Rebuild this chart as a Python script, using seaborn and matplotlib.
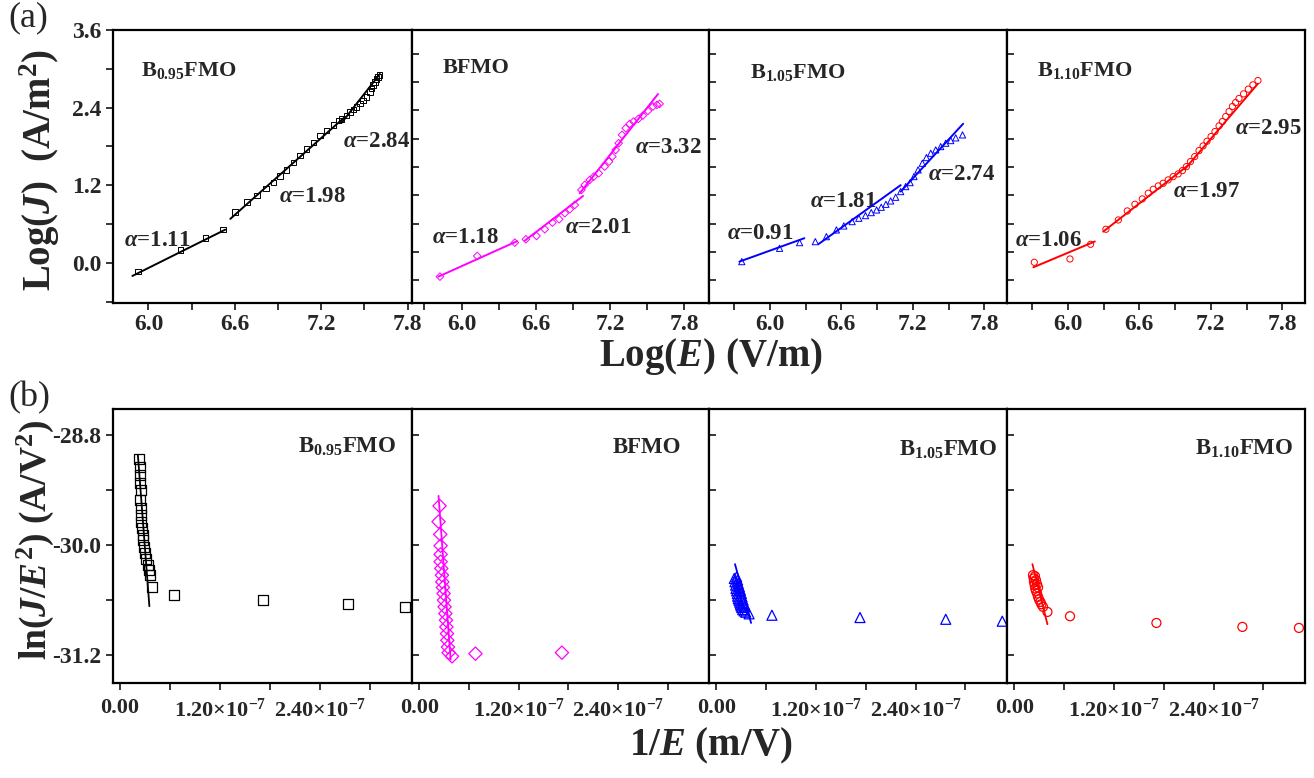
import numpy as np
import pandas as pd
import matplotlib
matplotlib.use("Agg")
import matplotlib.pyplot as plt
import seaborn as sns
from matplotlib.ticker import MultipleLocator, FuncFormatter, NullFormatter

# ---------------- samples ----------------
sample_names = ["B$_{0.95}$FMO", "BFMO", "B$_{1.05}$FMO", "B$_{1.10}$FMO"]
sample_colors = ["#000000", "#FF00FF", "#0000FF", "#FF0000"]
sample_markers = ["s", "D", "^", "o"]

# ---------------- (a) Log(J) vs Log(E) ----------------
logE_b095 = [5.926, 6.222, 6.395, 6.517, 6.602, 6.683, 6.753, 6.815, 6.868, 6.914,
             6.960, 7.006, 7.053, 7.099, 7.145, 7.191, 7.237, 7.283, 7.318, 7.341,
             7.376, 7.399, 7.422, 7.445, 7.468, 7.491, 7.514, 7.537, 7.549, 7.560,
             7.572, 7.583, 7.595, 7.606]
logJ_b095 = [-0.135, 0.202, 0.384, 0.514, 0.784, 0.940, 1.044, 1.147, 1.241, 1.345,
             1.438, 1.552, 1.656, 1.760, 1.864, 1.968, 2.046, 2.134, 2.201, 2.227,
             2.279, 2.331, 2.373, 2.409, 2.461, 2.513, 2.565, 2.643, 2.695, 2.747,
             2.799, 2.840, 2.871, 2.902]

logE_bfmo = [5.826, 6.127, 6.431, 6.520, 6.606, 6.673, 6.735, 6.789, 6.835, 6.875,
             6.915, 6.969, 6.996, 7.036, 7.069, 7.109, 7.157, 7.192, 7.219, 7.246,
             7.270, 7.297, 7.327, 7.359, 7.391, 7.429, 7.466, 7.507, 7.547, 7.579,
             7.601]
logJ_bfmo = [-0.522, -0.084, 0.198, 0.269, 0.339, 0.481, 0.622, 0.693, 0.820, 0.905,
             0.996, 1.314, 1.420, 1.526, 1.596, 1.667, 1.808, 1.914, 2.020, 2.161,
             2.303, 2.479, 2.621, 2.712, 2.762, 2.818, 2.889, 2.988, 3.080, 3.115,
             3.136]

logE_b105 = [5.765, 6.082, 6.250, 6.382, 6.475, 6.559, 6.621, 6.691, 6.747, 6.803,
             6.851, 6.896, 6.935, 6.974, 7.014, 7.056, 7.098, 7.140, 7.177, 7.210,
             7.244, 7.280, 7.314, 7.350, 7.392, 7.434, 7.476, 7.518, 7.560, 7.617]
logJ_b105 = [-0.204, 0.078, 0.198, 0.219, 0.325, 0.467, 0.551, 0.643, 0.714, 0.770,
             0.834, 0.890, 0.947, 1.010, 1.081, 1.159, 1.279, 1.385, 1.469, 1.597,
             1.738, 1.879, 1.999, 2.091, 2.161, 2.232, 2.303, 2.359, 2.416, 2.479]

logE_b110 = [5.719, 6.018, 6.191, 6.320, 6.424, 6.499, 6.563, 6.625, 6.675, 6.717,
             6.759, 6.800, 6.842, 6.884, 6.926, 6.962, 6.995, 7.029, 7.065, 7.101,
             7.135, 7.168, 7.202, 7.235, 7.269, 7.297, 7.325, 7.353, 7.381, 7.408,
             7.436, 7.475, 7.514, 7.553, 7.595]
logJ_b110 = [-0.218, -0.148, 0.163, 0.481, 0.678, 0.869, 1.010, 1.123, 1.244, 1.328,
             1.399, 1.455, 1.526, 1.596, 1.653, 1.724, 1.808, 1.914, 2.020, 2.147,
             2.246, 2.345, 2.444, 2.550, 2.670, 2.762, 2.868, 2.974, 3.080, 3.164,
             3.249, 3.348, 3.447, 3.539, 3.630]

# power-law exponents of the three conduction regimes and the fitted ranges
alpha_b095 = [1.11, 1.98, 2.84]
alpha_bfmo = [1.18, 2.01, 3.32]
alpha_b105 = [0.91, 1.81, 2.74]
alpha_b110 = [1.06, 1.97, 2.95]

fit_start_b095 = [5.888, 6.568, 7.341]
fit_end_b095 = [6.533, 7.364, 7.607]
fit_y0_b095 = [-0.202, 0.680, 2.165]

fit_start_bfmo = [5.813, 6.512, 6.955]
fit_end_bfmo = [6.450, 6.982, 7.588]
fit_y0_bfmo = [-0.522, 0.241, 1.243]

fit_start_b105 = [5.745, 6.410, 7.098]
fit_end_b105 = [6.290, 7.098, 7.622]
fit_y0_b105 = [-0.204, 0.170, 1.279]

fit_start_b110 = [5.711, 6.297, 6.981]
fit_end_b110 = [6.227, 7.023, 7.595]
fit_y0_b110 = [-0.324, 0.431, 1.752]

# ---------------- (b) ln(J/E^2) vs 1/E  (1/E in units of 1e-7 m/V) ----------------
invE_b095 = [0.230, 0.238, 0.238, 0.242, 0.246, 0.242, 0.246, 0.250, 0.254, 0.262,
             0.271, 0.279, 0.291, 0.303, 0.315, 0.332, 0.344, 0.356, 0.384, 0.652,
             1.709, 2.733, 3.414]
lnJE2_b095 = [-29.065, -29.146, -29.236, -29.320, -29.400, -29.509, -29.600, -29.672,
              -29.745, -29.818, -29.890, -29.945, -30.018, -30.090, -30.156, -30.218,
              -30.272, -30.327, -30.461, -30.545, -30.600, -30.646, -30.672]

invE_bfmo = [0.243, 0.231, 0.252, 0.256, 0.256, 0.256, 0.264, 0.272, 0.276, 0.284,
             0.292, 0.296, 0.304, 0.313, 0.321, 0.325, 0.333, 0.337, 0.345, 0.353,
             0.394, 0.677, 1.722]
lnJE2_bfmo = [-29.574, -29.745, -29.883, -30.007, -30.101, -30.181, -30.254, -30.327,
              -30.400, -30.461, -30.527, -30.599, -30.672, -30.745, -30.817, -30.890,
              -30.963, -31.036, -31.109, -31.170, -31.210, -31.181, -31.170]

invE_b105 = [0.215, 0.223, 0.231, 0.235, 0.243, 0.251, 0.255, 0.263, 0.271, 0.280,
             0.288, 0.296, 0.304, 0.316, 0.332, 0.352, 0.393, 0.243, 0.255, 0.263,
             0.276, 0.288, 0.300, 0.308, 0.320, 0.332, 0.345, 0.668, 1.729, 2.762,
             3.443]
lnJE2_b105 = [-30.363, -30.399, -30.436, -30.472, -30.498, -30.527, -30.556, -30.581,
              -30.599, -30.621, -30.643, -30.661, -30.679, -30.701, -30.716, -30.730,
              -30.748, -30.345, -30.381, -30.418, -30.454, -30.490, -30.527, -30.563,
              -30.599, -30.636, -30.672, -30.763, -30.788, -30.807, -30.828]

invE_b110 = [0.223, 0.231, 0.235, 0.243, 0.251, 0.259, 0.272, 0.284, 0.296, 0.312,
             0.324, 0.344, 0.397, 0.247, 0.259, 0.272, 0.284, 0.669, 1.710, 2.746,
             3.427]
lnJE2_b110 = [-30.327, -30.363, -30.399, -30.436, -30.472, -30.498, -30.527, -30.563,
              -30.592, -30.618, -30.643, -30.672, -30.727, -30.338, -30.381, -30.425,
              -30.461, -30.774, -30.847, -30.890, -30.901]

# linear Fowler-Nordheim fits (end points)
fn_x_b095 = [0.214, 0.352]
fn_y_b095 = [-29.018, -30.665]
fn_x_bfmo = [0.231, 0.377]
fn_y_bfmo = [-29.465, -31.246]
fn_x_b105 = [0.223, 0.417]
fn_y_b105 = [-30.207, -30.847]
fn_x_b110 = [0.216, 0.397]
fn_y_b110 = [-30.207, -30.861]

top_sets = [
    (logE_b095, logJ_b095, alpha_b095, fit_start_b095, fit_end_b095, fit_y0_b095),
    (logE_bfmo, logJ_bfmo, alpha_bfmo, fit_start_bfmo, fit_end_bfmo, fit_y0_bfmo),
    (logE_b105, logJ_b105, alpha_b105, fit_start_b105, fit_end_b105, fit_y0_b105),
    (logE_b110, logJ_b110, alpha_b110, fit_start_b110, fit_end_b110, fit_y0_b110),
]
bottom_sets = [
    (invE_b095, lnJE2_b095, fn_x_b095, fn_y_b095),
    (invE_bfmo, lnJE2_bfmo, fn_x_bfmo, fn_y_bfmo),
    (invE_b105, lnJE2_b105, fn_x_b105, fn_y_b105),
    (invE_b110, lnJE2_b110, fn_x_b110, fn_y_b110),
]

# ---------------- style ----------------
sns.set_style("ticks")
plt.rcParams["font.family"] = ["Liberation Serif", "DejaVu Serif"]
plt.rcParams["font.weight"] = "bold"
plt.rcParams["mathtext.fontset"] = "custom"
plt.rcParams["mathtext.rm"] = "Liberation Serif:bold"
plt.rcParams["mathtext.it"] = "Liberation Serif:bold:italic"
plt.rcParams["mathtext.bf"] = "Liberation Serif:bold"
plt.rcParams["axes.unicode_minus"] = False

W, H = 1314, 778
fig = plt.figure(figsize=(W / 100, H / 100), dpi=100)

col_edges = [112.5, 412, 709, 1007, 1305]
top_rows = (30, 303)
bot_rows = (409, 683)


def make_axes(rows):
    axs = []
    for i in range(4):
        x0, x1 = col_edges[i], col_edges[i + 1]
        rect = [x0 / W, 1 - rows[1] / H, (x1 - x0) / W, (rows[1] - rows[0]) / H]
        axs.append(fig.add_axes(rect))
    return axs


top_axes = make_axes(top_rows)
bot_axes = make_axes(bot_rows)

top_xlims = [(5.75, 7.83), (5.60, 8.00), (5.49, 7.99), (5.49, 7.99)]
top_ylims = [(-0.62, 3.60), (-1.08, 4.70), (-1.08, 4.70), (-1.08, 4.70)]
TICK_FS = 17


def style_axis(ax, first):
    for sp in ax.spines.values():
        sp.set_visible(True)
        sp.set_linewidth(1.6)
        sp.set_color("black")
    ax.tick_params(axis="x", which="both", direction="out", length=5, width=1.3,
                   top=False, labelsize=TICK_FS, pad=3)
    ax.tick_params(axis="y", which="both", direction="out" if first else "in",
                   length=5, width=1.3, right=False, labelsize=TICK_FS, pad=3)
    ax.grid(False)
    ax.set_xlabel("")
    ax.set_ylabel("")


# ---- (a) panels ----
label_pos_top = [
    [(0.037, 0.23), (0.555, 0.39), (0.770, 0.59)],
    [(0.067, 0.24), (0.515, 0.275), (0.751, 0.57)],
    [(0.061, 0.256), (0.340, 0.37), (0.734, 0.47)],
    [(0.027, 0.23), (0.557, 0.41), (0.765, 0.64)],
]
name_pos_top = [(0.094, 0.853), (0.104, 0.861), (0.138, 0.846), (0.100, 0.853)]

for i, ax in enumerate(top_axes):
    logE, logJ, alphas, xs0, xs1, ys0 = top_sets[i]
    color, marker = sample_colors[i], sample_markers[i]
    msize = 15 if marker in ("s", "D") else 20
    sns.scatterplot(x=logE, y=logJ, ax=ax, marker=marker, s=msize,
                    facecolors="none", edgecolor=color, linewidth=0.7, legend=False, zorder=3)
    for a, xa, xb, ya in zip(alphas, xs0, xs1, ys0):
        seg = pd.DataFrame({"x": [xa, xb], "y": [ya, ya + a * (xb - xa)]})
        sns.lineplot(data=seg, x="x", y="y", ax=ax, color=color, linewidth=1.4,
                     estimator=None, sort=False, legend=False, zorder=4)
    for (tx, ty), a in zip(label_pos_top[i], alphas):
        ax.text(tx, ty, rf"$\alpha$={a:.2f}", transform=ax.transAxes, fontsize=16.5,
                ha="left", va="center")
    ax.text(name_pos_top[i][0], name_pos_top[i][1], sample_names[i], transform=ax.transAxes,
            fontsize=16, ha="left", va="center")

    ax.set_xlim(*top_xlims[i])
    ax.set_ylim(*top_ylims[i])
    ax.xaxis.set_major_locator(MultipleLocator(0.6))
    ax.xaxis.set_minor_locator(MultipleLocator(0.3))
    ax.xaxis.set_major_formatter(FuncFormatter(lambda v, p: f"{v:.1f}"))
    if i == 0:
        ax.yaxis.set_major_locator(MultipleLocator(1.2))
        ax.yaxis.set_minor_locator(MultipleLocator(0.6))
        ax.yaxis.set_major_formatter(FuncFormatter(lambda v, p: f"{v:.1f}"))
    else:
        ax.yaxis.set_major_locator(MultipleLocator(0.6))
        ax.yaxis.set_major_formatter(NullFormatter())
    style_axis(ax, i == 0)

# ---- (b) panels ----
name_pos_bot = [(0.619, 0.861), (0.677, 0.861), (0.636, 0.850), (0.631, 0.855)]
bot_msize = {"s": 52, "D": 46, "^": 52, "o": 42}


def fmt_inv(v, p):
    if abs(v) < 1e-12:
        return "0.00"
    return f"{v / 1e-7:.2f}×10$^{{-7}}$"


for i, ax in enumerate(bot_axes):
    invE, lnJE2, fx, fy = bottom_sets[i]
    color, marker = sample_colors[i], sample_markers[i]
    x = np.asarray(invE) * 1e-7
    sns.scatterplot(x=x, y=lnJE2, ax=ax, marker=marker, s=bot_msize[marker],
                    facecolors="none", edgecolor=color, linewidth=0.9, legend=False, zorder=3)
    fit = pd.DataFrame({"x": np.asarray(fx) * 1e-7, "y": fy})
    sns.lineplot(data=fit, x="x", y="y", ax=ax, color=color, linewidth=1.3,
                 estimator=None, sort=False, legend=False, zorder=4)
    ax.text(name_pos_bot[i][0], name_pos_bot[i][1], sample_names[i], transform=ax.transAxes,
            fontsize=16.5, ha="left", va="center")

    ax.set_xlim(-0.09e-7, 3.50e-7)
    ax.set_ylim(-31.50, -28.52)
    ax.xaxis.set_major_locator(MultipleLocator(1.2e-7))
    ax.xaxis.set_minor_locator(MultipleLocator(0.6e-7))
    ax.xaxis.set_major_formatter(FuncFormatter(fmt_inv))
    ax.yaxis.set_major_locator(MultipleLocator(1.2))
    ax.yaxis.set_minor_locator(MultipleLocator(0.6))
    if i == 0:
        ax.yaxis.set_major_formatter(FuncFormatter(lambda v, p: f"{v:.1f}"))
    else:
        ax.yaxis.set_major_formatter(NullFormatter())
    style_axis(ax, i == 0)
    ax.tick_params(axis="x", labelsize=16, pad=6)

# ---- shared labels ----
fig.text(711 / W, 1 - 356 / H, r"Log($E$) (V/m)", fontsize=28, ha="center", va="center")
fig.text(711 / W, 1 - 746 / H, r"$\mathit{1/E}$ (m/V)", fontsize=28, ha="center", va="center")
fig.text(40 / W, 1 - 170 / H, r"Log($J$)  (A/m$^2$)", fontsize=28, ha="center", va="center",
         rotation=90)
fig.text(35 / W, 1 - 540 / H, r"ln($J/E^2$) (A/V$^2$)", fontsize=27, ha="center", va="center",
         rotation=90)
fig.text(8 / W, 1 - 18 / H, "(a)", fontsize=26, fontweight="normal", ha="left", va="center")
fig.text(8 / W, 1 - 398 / H, "(b)", fontsize=26, fontweight="normal", ha="left", va="center")

fig.savefig("out.png", dpi=100)
